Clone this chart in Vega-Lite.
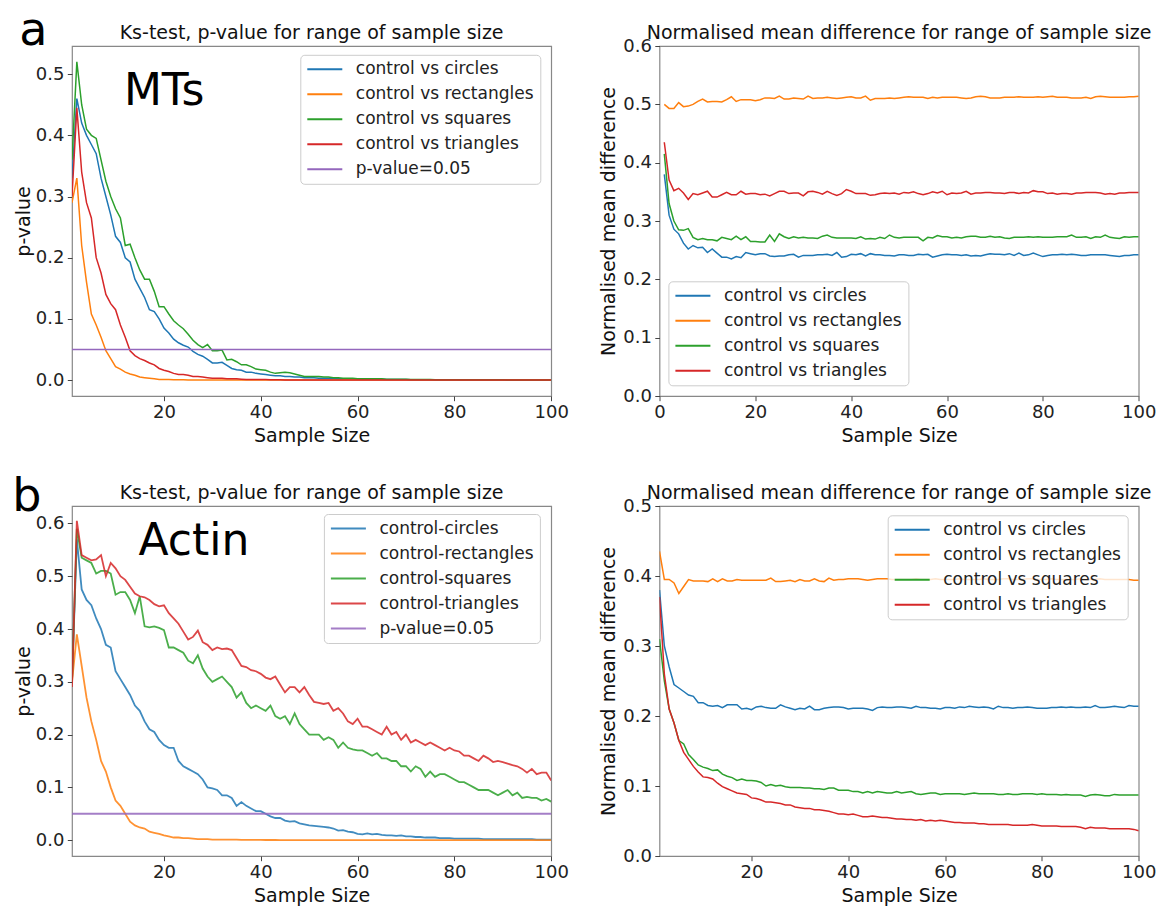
{
  "$schema": "https://vega.github.io/schema/vega-lite/v6.json",
  "background": "white",
  "padding": {"left": 11, "top": 7, "right": 5, "bottom": 5},
  "autosize": {"type": "pad"},
  "config": {
    "font": "DejaVu Sans",
    "view": {"stroke": "#888", "strokeWidth": 1.2},
    "axis": {"domain": false, "grid": false, "ticks": true, "tickSize": 4.7, "tickColor": "#444", "tickWidth": 1, "labelFontSize": 18, "labelColor": "#222", "labelFont": "DejaVu Sans", "labelFlush": false, "labelOverlap": false, "titleFontSize": 19, "titleFont": "DejaVu Sans", "titleFontWeight": "normal", "titleColor": "#111"},
    "axisX": {"labelPadding": 3, "titleY": 45.5, "titleBaseline": "alphabetic"},
    "axisY": {"labelPadding": 3.3, "titleBaseline": "alphabetic", "titleAngle": 270, "titleAlign": "center"},
    "title": {"fontSize": 19, "fontWeight": "normal", "font": "DejaVu Sans", "color": "#111", "baseline": "alphabetic", "frame": "group", "anchor": "middle"},
    "legend": {"orient": "none", "title": null, "symbolType": "stroke", "symbolSize": 1225, "symbolStrokeWidth": 2, "labelFontSize": 17, "labelFont": "DejaVu Sans", "labelColor": "#222", "labelLimit": 400, "labelOffset": 12.5, "rowPadding": 7, "padding": 6, "strokeColor": "#ccc", "fillColor": "rgba(255,255,255,0.8)", "cornerRadius": 4, "clipHeight": 17}
  },
  "datasets": {
    "tl": [
      {"n":1,"circles":0.33,"rectangles":0.29,"squares":0.36,"triangles":0.30},
      {"n":2,"circles":0.46,"rectangles":0.33,"squares":0.52,"triangles":0.445},
      {"n":3,"circles":0.42,"rectangles":0.22,"squares":0.45,"triangles":0.34},
      {"n":4,"circles":0.40,"rectangles":0.16,"squares":0.41,"triangles":0.29},
      {"n":5,"circles":0.385,"rectangles":0.108,"squares":0.40,"triangles":0.265},
      {"n":6,"circles":0.37,"rectangles":0.09,"squares":0.395,"triangles":0.20},
      {"n":7,"circles":0.33,"rectangles":0.07,"squares":0.36,"triangles":0.175},
      {"n":8,"circles":0.30,"rectangles":0.048,"squares":0.325,"triangles":0.14},
      {"n":9,"circles":0.27,"rectangles":0.035,"squares":0.30,"triangles":0.125},
      {"n":10,"circles":0.235,"rectangles":0.022,"squares":0.28,"triangles":0.115},
      {"n":11,"circles":0.225,"rectangles":0.018,"squares":0.265,"triangles":0.09},
      {"n":12,"circles":0.20,"rectangles":0.013,"squares":0.22,"triangles":0.07},
      {"n":13,"circles":0.193,"rectangles":0.010,"squares":0.222,"triangles":0.048},
      {"n":14,"circles":0.165,"rectangles":0.008,"squares":0.20,"triangles":0.040},
      {"n":15,"circles":0.15,"rectangles":0.005,"squares":0.18,"triangles":0.035},
      {"n":16,"circles":0.135,"rectangles":0.004,"squares":0.165,"triangles":0.032},
      {"n":17,"circles":0.115,"rectangles":0.003,"squares":0.165,"triangles":0.028},
      {"n":18,"circles":0.112,"rectangles":0.002,"squares":0.145,"triangles":0.025},
      {"n":19,"circles":0.10,"rectangles":0.001,"squares":0.12,"triangles":0.019},
      {"n":20,"circles":0.085,"rectangles":0.001,"squares":0.12,"triangles":0.016},
      {"n":21,"circles":0.077,"rectangles":0.001,"squares":0.108,"triangles":0.014},
      {"n":22,"circles":0.067,"rectangles":0.0005,"squares":0.097,"triangles":0.011},
      {"n":23,"circles":0.061,"rectangles":0.0005,"squares":0.09,"triangles":0.009},
      {"n":24,"circles":0.057,"rectangles":0.0004,"squares":0.084,"triangles":0.009},
      {"n":25,"circles":0.054,"rectangles":0.0003,"squares":0.075,"triangles":0.008},
      {"n":26,"circles":0.047,"rectangles":0.0002,"squares":0.065,"triangles":0.006},
      {"n":27,"circles":0.042,"rectangles":0.0002,"squares":0.058,"triangles":0.006},
      {"n":28,"circles":0.039,"rectangles":0.0001,"squares":0.053,"triangles":0.005},
      {"n":29,"circles":0.034,"rectangles":0.0001,"squares":0.058,"triangles":0.004},
      {"n":30,"circles":0.028,"rectangles":0.0001,"squares":0.048,"triangles":0.003},
      {"n":31,"circles":0.028,"rectangles":0.0001,"squares":0.048,"triangles":0.003},
      {"n":32,"circles":0.029,"rectangles":0,"squares":0.049,"triangles":0.003},
      {"n":33,"circles":0.024,"rectangles":0,"squares":0.033,"triangles":0.002},
      {"n":34,"circles":0.019,"rectangles":0,"squares":0.034,"triangles":0.002},
      {"n":35,"circles":0.017,"rectangles":0,"squares":0.030,"triangles":0.002},
      {"n":36,"circles":0.016,"rectangles":0,"squares":0.025,"triangles":0.0015},
      {"n":37,"circles":0.013,"rectangles":0,"squares":0.025,"triangles":0.001},
      {"n":38,"circles":0.013,"rectangles":0,"squares":0.022,"triangles":0.001},
      {"n":39,"circles":0.011,"rectangles":0,"squares":0.018,"triangles":0.001},
      {"n":40,"circles":0.010,"rectangles":0,"squares":0.017,"triangles":0.001},
      {"n":41,"circles":0.009,"rectangles":0,"squares":0.016,"triangles":0.0008},
      {"n":42,"circles":0.008,"rectangles":0,"squares":0.013,"triangles":0.0006},
      {"n":43,"circles":0.007,"rectangles":0,"squares":0.011,"triangles":0.0005},
      {"n":44,"circles":0.007,"rectangles":0,"squares":0.012,"triangles":0.0004},
      {"n":45,"circles":0.006,"rectangles":0,"squares":0.013,"triangles":0.0003},
      {"n":46,"circles":0.006,"rectangles":0,"squares":0.012,"triangles":0.0003},
      {"n":47,"circles":0.005,"rectangles":0,"squares":0.010,"triangles":0.0002},
      {"n":48,"circles":0.005,"rectangles":0,"squares":0.008,"triangles":0.0002},
      {"n":49,"circles":0.004,"rectangles":0,"squares":0.006,"triangles":0.0001},
      {"n":50,"circles":0.004,"rectangles":0,"squares":0.006,"triangles":0.0001},
      {"n":51,"circles":0.004,"rectangles":0,"squares":0.006,"triangles":0.0001},
      {"n":52,"circles":0.003,"rectangles":0,"squares":0.006,"triangles":0},
      {"n":53,"circles":0.003,"rectangles":0,"squares":0.005,"triangles":0},
      {"n":54,"circles":0.003,"rectangles":0,"squares":0.005,"triangles":0},
      {"n":55,"circles":0.003,"rectangles":0,"squares":0.004,"triangles":0},
      {"n":56,"circles":0.002,"rectangles":0,"squares":0.004,"triangles":0},
      {"n":57,"circles":0.002,"rectangles":0,"squares":0.003,"triangles":0},
      {"n":58,"circles":0.002,"rectangles":0,"squares":0.003,"triangles":0},
      {"n":59,"circles":0.002,"rectangles":0,"squares":0.003,"triangles":0},
      {"n":60,"circles":0.002,"rectangles":0,"squares":0.002,"triangles":0},
      {"n":61,"circles":0.0015,"rectangles":0,"squares":0.002,"triangles":0},
      {"n":62,"circles":0.0015,"rectangles":0,"squares":0.002,"triangles":0},
      {"n":63,"circles":0.0015,"rectangles":0,"squares":0.002,"triangles":0},
      {"n":64,"circles":0.0015,"rectangles":0,"squares":0.002,"triangles":0},
      {"n":65,"circles":0.0015,"rectangles":0,"squares":0.002,"triangles":0},
      {"n":66,"circles":0.001,"rectangles":0,"squares":0.0015,"triangles":0},
      {"n":67,"circles":0.001,"rectangles":0,"squares":0.0015,"triangles":0},
      {"n":68,"circles":0.001,"rectangles":0,"squares":0.0015,"triangles":0},
      {"n":69,"circles":0.001,"rectangles":0,"squares":0.0015,"triangles":0},
      {"n":70,"circles":0.001,"rectangles":0,"squares":0.0015,"triangles":0},
      {"n":71,"circles":0.0007,"rectangles":0,"squares":0.001,"triangles":0},
      {"n":72,"circles":0.0007,"rectangles":0,"squares":0.001,"triangles":0},
      {"n":73,"circles":0.0007,"rectangles":0,"squares":0.001,"triangles":0},
      {"n":74,"circles":0.0007,"rectangles":0,"squares":0.001,"triangles":0},
      {"n":75,"circles":0.0007,"rectangles":0,"squares":0.001,"triangles":0},
      {"n":76,"circles":0.0005,"rectangles":0,"squares":0.0007,"triangles":0},
      {"n":77,"circles":0.0005,"rectangles":0,"squares":0.0007,"triangles":0},
      {"n":78,"circles":0.0005,"rectangles":0,"squares":0.0007,"triangles":0},
      {"n":79,"circles":0.0005,"rectangles":0,"squares":0.0007,"triangles":0},
      {"n":80,"circles":0.0005,"rectangles":0,"squares":0.0007,"triangles":0},
      {"n":81,"circles":0.0003,"rectangles":0,"squares":0.0004,"triangles":0},
      {"n":82,"circles":0.0003,"rectangles":0,"squares":0.0004,"triangles":0},
      {"n":83,"circles":0.0003,"rectangles":0,"squares":0.0004,"triangles":0},
      {"n":84,"circles":0.0003,"rectangles":0,"squares":0.0004,"triangles":0},
      {"n":85,"circles":0.0003,"rectangles":0,"squares":0.0004,"triangles":0},
      {"n":86,"circles":0.0003,"rectangles":0,"squares":0.0004,"triangles":0},
      {"n":87,"circles":0.0003,"rectangles":0,"squares":0.0004,"triangles":0},
      {"n":88,"circles":0.0003,"rectangles":0,"squares":0.0004,"triangles":0},
      {"n":89,"circles":0.0003,"rectangles":0,"squares":0.0004,"triangles":0},
      {"n":90,"circles":0.0003,"rectangles":0,"squares":0.0004,"triangles":0},
      {"n":91,"circles":0.0001,"rectangles":0,"squares":0.0002,"triangles":0},
      {"n":92,"circles":0.0001,"rectangles":0,"squares":0.0002,"triangles":0},
      {"n":93,"circles":0.0001,"rectangles":0,"squares":0.0002,"triangles":0},
      {"n":94,"circles":0.0001,"rectangles":0,"squares":0.0002,"triangles":0},
      {"n":95,"circles":0.0001,"rectangles":0,"squares":0.0002,"triangles":0},
      {"n":96,"circles":0.0001,"rectangles":0,"squares":0.0002,"triangles":0},
      {"n":97,"circles":0.0001,"rectangles":0,"squares":0.0002,"triangles":0},
      {"n":98,"circles":0.0001,"rectangles":0,"squares":0.0002,"triangles":0},
      {"n":99,"circles":0.0001,"rectangles":0,"squares":0.0002,"triangles":0},
      {"n":100,"circles":0.0001,"rectangles":0,"squares":0.0002,"triangles":0}
    ],
    "tr": [
      {"n":1,"circles":0.380,"rectangles":0.500,"squares":0.415,"triangles":0.435},
      {"n":2,"circles":0.310,"rectangles":0.493,"squares":0.330,"triangles":0.370},
      {"n":3,"circles":0.286,"rectangles":0.493,"squares":0.300,"triangles":0.352},
      {"n":4,"circles":0.278,"rectangles":0.503,"squares":0.285,"triangles":0.356},
      {"n":5,"circles":0.262,"rectangles":0.496,"squares":0.284,"triangles":0.348},
      {"n":6,"circles":0.252,"rectangles":0.497,"squares":0.287,"triangles":0.337},
      {"n":7,"circles":0.258,"rectangles":0.500,"squares":0.272,"triangles":0.347},
      {"n":8,"circles":0.254,"rectangles":0.505,"squares":0.268,"triangles":0.345},
      {"n":9,"circles":0.255,"rectangles":0.509,"squares":0.270,"triangles":0.348},
      {"n":10,"circles":0.246,"rectangles":0.504,"squares":0.268,"triangles":0.351},
      {"n":11,"circles":0.252,"rectangles":0.505,"squares":0.268,"triangles":0.341},
      {"n":12,"circles":0.245,"rectangles":0.505,"squares":0.266,"triangles":0.341},
      {"n":13,"circles":0.238,"rectangles":0.504,"squares":0.272,"triangles":0.345},
      {"n":14,"circles":0.238,"rectangles":0.508,"squares":0.270,"triangles":0.349},
      {"n":15,"circles":0.235,"rectangles":0.513,"squares":0.268,"triangles":0.345},
      {"n":16,"circles":0.239,"rectangles":0.505,"squares":0.274,"triangles":0.345},
      {"n":17,"circles":0.237,"rectangles":0.508,"squares":0.268,"triangles":0.351},
      {"n":18,"circles":0.246,"rectangles":0.508,"squares":0.273,"triangles":0.346},
      {"n":19,"circles":0.244,"rectangles":0.508,"squares":0.265,"triangles":0.347},
      {"n":20,"circles":0.242,"rectangles":0.506,"squares":0.265,"triangles":0.347},
      {"n":21,"circles":0.244,"rectangles":0.508,"squares":0.264,"triangles":0.345},
      {"n":22,"circles":0.244,"rectangles":0.511,"squares":0.264,"triangles":0.346},
      {"n":23,"circles":0.240,"rectangles":0.511,"squares":0.276,"triangles":0.343},
      {"n":24,"circles":0.239,"rectangles":0.510,"squares":0.265,"triangles":0.347},
      {"n":25,"circles":0.240,"rectangles":0.514,"squares":0.278,"triangles":0.351},
      {"n":26,"circles":0.240,"rectangles":0.509,"squares":0.273,"triangles":0.351},
      {"n":27,"circles":0.242,"rectangles":0.509,"squares":0.270,"triangles":0.347},
      {"n":28,"circles":0.243,"rectangles":0.511,"squares":0.273,"triangles":0.348},
      {"n":29,"circles":0.238,"rectangles":0.510,"squares":0.271,"triangles":0.348},
      {"n":30,"circles":0.241,"rectangles":0.509,"squares":0.272,"triangles":0.343},
      {"n":31,"circles":0.241,"rectangles":0.514,"squares":0.271,"triangles":0.350},
      {"n":32,"circles":0.241,"rectangles":0.510,"squares":0.271,"triangles":0.351},
      {"n":33,"circles":0.242,"rectangles":0.511,"squares":0.270,"triangles":0.349},
      {"n":34,"circles":0.242,"rectangles":0.511,"squares":0.274,"triangles":0.346},
      {"n":35,"circles":0.243,"rectangles":0.512,"squares":0.276,"triangles":0.351},
      {"n":36,"circles":0.241,"rectangles":0.511,"squares":0.272,"triangles":0.347},
      {"n":37,"circles":0.246,"rectangles":0.510,"squares":0.271,"triangles":0.344},
      {"n":38,"circles":0.238,"rectangles":0.511,"squares":0.271,"triangles":0.347},
      {"n":39,"circles":0.239,"rectangles":0.512,"squares":0.271,"triangles":0.354},
      {"n":40,"circles":0.243,"rectangles":0.513,"squares":0.271,"triangles":0.351},
      {"n":41,"circles":0.242,"rectangles":0.511,"squares":0.270,"triangles":0.347},
      {"n":42,"circles":0.244,"rectangles":0.511,"squares":0.273,"triangles":0.347},
      {"n":43,"circles":0.240,"rectangles":0.514,"squares":0.269,"triangles":0.347},
      {"n":44,"circles":0.244,"rectangles":0.507,"squares":0.270,"triangles":0.344},
      {"n":45,"circles":0.242,"rectangles":0.510,"squares":0.269,"triangles":0.345},
      {"n":46,"circles":0.242,"rectangles":0.510,"squares":0.272,"triangles":0.347},
      {"n":47,"circles":0.241,"rectangles":0.510,"squares":0.270,"triangles":0.348},
      {"n":48,"circles":0.241,"rectangles":0.511,"squares":0.276,"triangles":0.347},
      {"n":49,"circles":0.240,"rectangles":0.510,"squares":0.272,"triangles":0.348},
      {"n":50,"circles":0.242,"rectangles":0.511,"squares":0.271,"triangles":0.346},
      {"n":51,"circles":0.242,"rectangles":0.512,"squares":0.272,"triangles":0.349},
      {"n":52,"circles":0.241,"rectangles":0.513,"squares":0.272,"triangles":0.348},
      {"n":53,"circles":0.241,"rectangles":0.512,"squares":0.272,"triangles":0.350},
      {"n":54,"circles":0.243,"rectangles":0.512,"squares":0.272,"triangles":0.347},
      {"n":55,"circles":0.242,"rectangles":0.512,"squares":0.266,"triangles":0.345},
      {"n":56,"circles":0.243,"rectangles":0.510,"squares":0.272,"triangles":0.347},
      {"n":57,"circles":0.238,"rectangles":0.512,"squares":0.271,"triangles":0.350},
      {"n":58,"circles":0.240,"rectangles":0.511,"squares":0.275,"triangles":0.348},
      {"n":59,"circles":0.242,"rectangles":0.512,"squares":0.273,"triangles":0.351},
      {"n":60,"circles":0.243,"rectangles":0.512,"squares":0.273,"triangles":0.345},
      {"n":61,"circles":0.242,"rectangles":0.512,"squares":0.271,"triangles":0.348},
      {"n":62,"circles":0.242,"rectangles":0.512,"squares":0.272,"triangles":0.347},
      {"n":63,"circles":0.241,"rectangles":0.511,"squares":0.271,"triangles":0.348},
      {"n":64,"circles":0.242,"rectangles":0.510,"squares":0.273,"triangles":0.351},
      {"n":65,"circles":0.240,"rectangles":0.511,"squares":0.274,"triangles":0.346},
      {"n":66,"circles":0.241,"rectangles":0.513,"squares":0.274,"triangles":0.348},
      {"n":67,"circles":0.240,"rectangles":0.514,"squares":0.272,"triangles":0.348},
      {"n":68,"circles":0.242,"rectangles":0.513,"squares":0.272,"triangles":0.349},
      {"n":69,"circles":0.244,"rectangles":0.511,"squares":0.274,"triangles":0.349},
      {"n":70,"circles":0.243,"rectangles":0.511,"squares":0.272,"triangles":0.348},
      {"n":71,"circles":0.243,"rectangles":0.511,"squares":0.273,"triangles":0.348},
      {"n":72,"circles":0.242,"rectangles":0.512,"squares":0.271,"triangles":0.347},
      {"n":73,"circles":0.244,"rectangles":0.512,"squares":0.270,"triangles":0.349},
      {"n":74,"circles":0.241,"rectangles":0.512,"squares":0.272,"triangles":0.349},
      {"n":75,"circles":0.245,"rectangles":0.513,"squares":0.272,"triangles":0.347},
      {"n":76,"circles":0.241,"rectangles":0.512,"squares":0.272,"triangles":0.349},
      {"n":77,"circles":0.242,"rectangles":0.512,"squares":0.273,"triangles":0.348},
      {"n":78,"circles":0.245,"rectangles":0.512,"squares":0.272,"triangles":0.352},
      {"n":79,"circles":0.242,"rectangles":0.513,"squares":0.273,"triangles":0.350},
      {"n":80,"circles":0.239,"rectangles":0.512,"squares":0.272,"triangles":0.350},
      {"n":81,"circles":0.241,"rectangles":0.513,"squares":0.272,"triangles":0.347},
      {"n":82,"circles":0.242,"rectangles":0.514,"squares":0.272,"triangles":0.348},
      {"n":83,"circles":0.242,"rectangles":0.512,"squares":0.273,"triangles":0.346},
      {"n":84,"circles":0.243,"rectangles":0.512,"squares":0.273,"triangles":0.347},
      {"n":85,"circles":0.242,"rectangles":0.512,"squares":0.273,"triangles":0.347},
      {"n":86,"circles":0.243,"rectangles":0.511,"squares":0.276,"triangles":0.346},
      {"n":87,"circles":0.242,"rectangles":0.511,"squares":0.272,"triangles":0.348},
      {"n":88,"circles":0.241,"rectangles":0.511,"squares":0.272,"triangles":0.348},
      {"n":89,"circles":0.241,"rectangles":0.512,"squares":0.273,"triangles":0.349},
      {"n":90,"circles":0.242,"rectangles":0.510,"squares":0.270,"triangles":0.349},
      {"n":91,"circles":0.242,"rectangles":0.513,"squares":0.273,"triangles":0.349},
      {"n":92,"circles":0.242,"rectangles":0.514,"squares":0.272,"triangles":0.348},
      {"n":93,"circles":0.242,"rectangles":0.513,"squares":0.276,"triangles":0.346},
      {"n":94,"circles":0.241,"rectangles":0.512,"squares":0.272,"triangles":0.347},
      {"n":95,"circles":0.240,"rectangles":0.512,"squares":0.271,"triangles":0.346},
      {"n":96,"circles":0.239,"rectangles":0.512,"squares":0.270,"triangles":0.348},
      {"n":97,"circles":0.241,"rectangles":0.512,"squares":0.273,"triangles":0.348},
      {"n":98,"circles":0.241,"rectangles":0.513,"squares":0.272,"triangles":0.349},
      {"n":99,"circles":0.242,"rectangles":0.513,"squares":0.273,"triangles":0.349},
      {"n":100,"circles":0.242,"rectangles":0.514,"squares":0.273,"triangles":0.349}
    ],
    "bl": [
      {"n":1,"circles":0.30,"rectangles":0.30,"squares":0.30,"triangles":0.29},
      {"n":2,"circles":0.57,"rectangles":0.39,"squares":0.59,"triangles":0.605},
      {"n":3,"circles":0.475,"rectangles":0.33,"squares":0.535,"triangles":0.54},
      {"n":4,"circles":0.455,"rectangles":0.27,"squares":0.53,"triangles":0.535},
      {"n":5,"circles":0.445,"rectangles":0.225,"squares":0.525,"triangles":0.53},
      {"n":6,"circles":0.42,"rectangles":0.19,"squares":0.505,"triangles":0.532},
      {"n":7,"circles":0.40,"rectangles":0.15,"squares":0.51,"triangles":0.54},
      {"n":8,"circles":0.37,"rectangles":0.13,"squares":0.51,"triangles":0.50},
      {"n":9,"circles":0.365,"rectangles":0.10,"squares":0.505,"triangles":0.525},
      {"n":10,"circles":0.32,"rectangles":0.075,"squares":0.465,"triangles":0.515},
      {"n":11,"circles":0.305,"rectangles":0.065,"squares":0.47,"triangles":0.50},
      {"n":12,"circles":0.29,"rectangles":0.05,"squares":0.47,"triangles":0.493},
      {"n":13,"circles":0.275,"rectangles":0.035,"squares":0.455,"triangles":0.48},
      {"n":14,"circles":0.255,"rectangles":0.028,"squares":0.43,"triangles":0.467},
      {"n":15,"circles":0.245,"rectangles":0.024,"squares":0.462,"triangles":0.462},
      {"n":16,"circles":0.225,"rectangles":0.022,"squares":0.405,"triangles":0.46},
      {"n":17,"circles":0.21,"rectangles":0.016,"squares":0.403,"triangles":0.455},
      {"n":18,"circles":0.205,"rectangles":0.014,"squares":0.405,"triangles":0.447},
      {"n":19,"circles":0.19,"rectangles":0.012,"squares":0.402,"triangles":0.443},
      {"n":20,"circles":0.18,"rectangles":0.009,"squares":0.398,"triangles":0.445},
      {"n":21,"circles":0.175,"rectangles":0.007,"squares":0.365,"triangles":0.43},
      {"n":22,"circles":0.175,"rectangles":0.005,"squares":0.365,"triangles":0.42},
      {"n":23,"circles":0.15,"rectangles":0.005,"squares":0.36,"triangles":0.41},
      {"n":24,"circles":0.14,"rectangles":0.004,"squares":0.355,"triangles":0.395},
      {"n":25,"circles":0.135,"rectangles":0.004,"squares":0.34,"triangles":0.38},
      {"n":26,"circles":0.13,"rectangles":0.003,"squares":0.335,"triangles":0.385},
      {"n":27,"circles":0.125,"rectangles":0.002,"squares":0.35,"triangles":0.397},
      {"n":28,"circles":0.115,"rectangles":0.002,"squares":0.325,"triangles":0.375},
      {"n":29,"circles":0.10,"rectangles":0.002,"squares":0.31,"triangles":0.37},
      {"n":30,"circles":0.098,"rectangles":0.001,"squares":0.30,"triangles":0.36},
      {"n":31,"circles":0.095,"rectangles":0.001,"squares":0.305,"triangles":0.365},
      {"n":32,"circles":0.085,"rectangles":0.001,"squares":0.31,"triangles":0.362},
      {"n":33,"circles":0.085,"rectangles":0.001,"squares":0.30,"triangles":0.363},
      {"n":34,"circles":0.08,"rectangles":0.001,"squares":0.29,"triangles":0.36},
      {"n":35,"circles":0.065,"rectangles":0.001,"squares":0.27,"triangles":0.345},
      {"n":36,"circles":0.072,"rectangles":0.0005,"squares":0.28,"triangles":0.33},
      {"n":37,"circles":0.065,"rectangles":0.0005,"squares":0.26,"triangles":0.328},
      {"n":38,"circles":0.06,"rectangles":0.0005,"squares":0.25,"triangles":0.322},
      {"n":39,"circles":0.055,"rectangles":0.0004,"squares":0.255,"triangles":0.32},
      {"n":40,"circles":0.055,"rectangles":0.0004,"squares":0.25,"triangles":0.315},
      {"n":41,"circles":0.05,"rectangles":0.0003,"squares":0.245,"triangles":0.308},
      {"n":42,"circles":0.045,"rectangles":0.0003,"squares":0.255,"triangles":0.305},
      {"n":43,"circles":0.042,"rectangles":0.0003,"squares":0.235,"triangles":0.31},
      {"n":44,"circles":0.042,"rectangles":0.0002,"squares":0.23,"triangles":0.295},
      {"n":45,"circles":0.037,"rectangles":0.0002,"squares":0.235,"triangles":0.28},
      {"n":46,"circles":0.035,"rectangles":0.0002,"squares":0.22,"triangles":0.29},
      {"n":47,"circles":0.036,"rectangles":0.0002,"squares":0.24,"triangles":0.29},
      {"n":48,"circles":0.032,"rectangles":0.0001,"squares":0.22,"triangles":0.28},
      {"n":49,"circles":0.03,"rectangles":0.0001,"squares":0.21,"triangles":0.29},
      {"n":50,"circles":0.028,"rectangles":0.0001,"squares":0.20,"triangles":0.275},
      {"n":51,"circles":0.027,"rectangles":0.0001,"squares":0.20,"triangles":0.262},
      {"n":52,"circles":0.026,"rectangles":0.0001,"squares":0.20,"triangles":0.26},
      {"n":53,"circles":0.025,"rectangles":0,"squares":0.19,"triangles":0.258},
      {"n":54,"circles":0.024,"rectangles":0,"squares":0.195,"triangles":0.26},
      {"n":55,"circles":0.022,"rectangles":0,"squares":0.19,"triangles":0.245},
      {"n":56,"circles":0.018,"rectangles":0,"squares":0.175,"triangles":0.25},
      {"n":57,"circles":0.019,"rectangles":0,"squares":0.185,"triangles":0.24},
      {"n":58,"circles":0.016,"rectangles":0,"squares":0.175,"triangles":0.225},
      {"n":59,"circles":0.015,"rectangles":0,"squares":0.172,"triangles":0.22},
      {"n":60,"circles":0.012,"rectangles":0,"squares":0.17,"triangles":0.23},
      {"n":61,"circles":0.011,"rectangles":0,"squares":0.17,"triangles":0.215},
      {"n":62,"circles":0.013,"rectangles":0,"squares":0.165,"triangles":0.215},
      {"n":63,"circles":0.011,"rectangles":0,"squares":0.16,"triangles":0.21},
      {"n":64,"circles":0.012,"rectangles":0,"squares":0.165,"triangles":0.205},
      {"n":65,"circles":0.010,"rectangles":0,"squares":0.155,"triangles":0.20},
      {"n":66,"circles":0.009,"rectangles":0,"squares":0.155,"triangles":0.215},
      {"n":67,"circles":0.009,"rectangles":0,"squares":0.15,"triangles":0.20},
      {"n":68,"circles":0.008,"rectangles":0,"squares":0.15,"triangles":0.205},
      {"n":69,"circles":0.009,"rectangles":0,"squares":0.14,"triangles":0.19},
      {"n":70,"circles":0.007,"rectangles":0,"squares":0.14,"triangles":0.20},
      {"n":71,"circles":0.007,"rectangles":0,"squares":0.13,"triangles":0.185},
      {"n":72,"circles":0.006,"rectangles":0,"squares":0.14,"triangles":0.19},
      {"n":73,"circles":0.006,"rectangles":0,"squares":0.135,"triangles":0.185},
      {"n":74,"circles":0.005,"rectangles":0,"squares":0.12,"triangles":0.18},
      {"n":75,"circles":0.005,"rectangles":0,"squares":0.13,"triangles":0.185},
      {"n":76,"circles":0.005,"rectangles":0,"squares":0.12,"triangles":0.18},
      {"n":77,"circles":0.004,"rectangles":0,"squares":0.125,"triangles":0.175},
      {"n":78,"circles":0.004,"rectangles":0,"squares":0.125,"triangles":0.17},
      {"n":79,"circles":0.004,"rectangles":0,"squares":0.12,"triangles":0.175},
      {"n":80,"circles":0.003,"rectangles":0,"squares":0.115,"triangles":0.17},
      {"n":81,"circles":0.003,"rectangles":0,"squares":0.11,"triangles":0.168},
      {"n":82,"circles":0.003,"rectangles":0,"squares":0.11,"triangles":0.16},
      {"n":83,"circles":0.003,"rectangles":0,"squares":0.105,"triangles":0.16},
      {"n":84,"circles":0.003,"rectangles":0,"squares":0.10,"triangles":0.155},
      {"n":85,"circles":0.003,"rectangles":0,"squares":0.095,"triangles":0.15},
      {"n":86,"circles":0.002,"rectangles":0,"squares":0.095,"triangles":0.16},
      {"n":87,"circles":0.002,"rectangles":0,"squares":0.095,"triangles":0.155},
      {"n":88,"circles":0.002,"rectangles":0,"squares":0.09,"triangles":0.148},
      {"n":89,"circles":0.002,"rectangles":0,"squares":0.085,"triangles":0.15},
      {"n":90,"circles":0.002,"rectangles":0,"squares":0.09,"triangles":0.148},
      {"n":91,"circles":0.002,"rectangles":0,"squares":0.095,"triangles":0.145},
      {"n":92,"circles":0.002,"rectangles":0,"squares":0.085,"triangles":0.142},
      {"n":93,"circles":0.002,"rectangles":0,"squares":0.09,"triangles":0.14},
      {"n":94,"circles":0.002,"rectangles":0,"squares":0.08,"triangles":0.135},
      {"n":95,"circles":0.002,"rectangles":0,"squares":0.082,"triangles":0.128},
      {"n":96,"circles":0.002,"rectangles":0,"squares":0.08,"triangles":0.135},
      {"n":97,"circles":0.001,"rectangles":0,"squares":0.08,"triangles":0.125},
      {"n":98,"circles":0.001,"rectangles":0,"squares":0.075,"triangles":0.128},
      {"n":99,"circles":0.001,"rectangles":0,"squares":0.078,"triangles":0.128},
      {"n":100,"circles":0.001,"rectangles":0,"squares":0.073,"triangles":0.113}
    ],
    "br": [
      {"n":1,"circles":0.380,"rectangles":0.435,"squares":0.310,"triangles":0.370},
      {"n":2,"circles":0.300,"rectangles":0.395,"squares":0.250,"triangles":0.260},
      {"n":3,"circles":0.270,"rectangles":0.395,"squares":0.210,"triangles":0.210},
      {"n":4,"circles":0.245,"rectangles":0.390,"squares":0.190,"triangles":0.190},
      {"n":5,"circles":0.240,"rectangles":0.375,"squares":0.165,"triangles":0.165},
      {"n":6,"circles":0.235,"rectangles":0.385,"squares":0.160,"triangles":0.148},
      {"n":7,"circles":0.230,"rectangles":0.395,"squares":0.145,"triangles":0.138},
      {"n":8,"circles":0.228,"rectangles":0.393,"squares":0.138,"triangles":0.128},
      {"n":9,"circles":0.219,"rectangles":0.393,"squares":0.130,"triangles":0.120},
      {"n":10,"circles":0.219,"rectangles":0.393,"squares":0.127,"triangles":0.113},
      {"n":11,"circles":0.215,"rectangles":0.392,"squares":0.125,"triangles":0.112},
      {"n":12,"circles":0.214,"rectangles":0.396,"squares":0.122,"triangles":0.110},
      {"n":13,"circles":0.215,"rectangles":0.392,"squares":0.123,"triangles":0.104},
      {"n":14,"circles":0.212,"rectangles":0.396,"squares":0.117,"triangles":0.099},
      {"n":15,"circles":0.216,"rectangles":0.393,"squares":0.114,"triangles":0.096},
      {"n":16,"circles":0.216,"rectangles":0.393,"squares":0.112,"triangles":0.093},
      {"n":17,"circles":0.216,"rectangles":0.395,"squares":0.108,"triangles":0.090},
      {"n":18,"circles":0.210,"rectangles":0.394,"squares":0.110,"triangles":0.089},
      {"n":19,"circles":0.211,"rectangles":0.394,"squares":0.108,"triangles":0.088},
      {"n":20,"circles":0.209,"rectangles":0.394,"squares":0.108,"triangles":0.083},
      {"n":21,"circles":0.213,"rectangles":0.394,"squares":0.107,"triangles":0.082},
      {"n":22,"circles":0.214,"rectangles":0.394,"squares":0.105,"triangles":0.080},
      {"n":23,"circles":0.212,"rectangles":0.394,"squares":0.100,"triangles":0.077},
      {"n":24,"circles":0.211,"rectangles":0.397,"squares":0.102,"triangles":0.077},
      {"n":25,"circles":0.211,"rectangles":0.392,"squares":0.100,"triangles":0.076},
      {"n":26,"circles":0.216,"rectangles":0.392,"squares":0.101,"triangles":0.075},
      {"n":27,"circles":0.213,"rectangles":0.393,"squares":0.099,"triangles":0.073},
      {"n":28,"circles":0.211,"rectangles":0.394,"squares":0.098,"triangles":0.073},
      {"n":29,"circles":0.209,"rectangles":0.392,"squares":0.098,"triangles":0.070},
      {"n":30,"circles":0.211,"rectangles":0.395,"squares":0.098,"triangles":0.069},
      {"n":31,"circles":0.210,"rectangles":0.393,"squares":0.097,"triangles":0.068},
      {"n":32,"circles":0.214,"rectangles":0.393,"squares":0.097,"triangles":0.068},
      {"n":33,"circles":0.209,"rectangles":0.396,"squares":0.096,"triangles":0.066},
      {"n":34,"circles":0.209,"rectangles":0.393,"squares":0.096,"triangles":0.066},
      {"n":35,"circles":0.211,"rectangles":0.392,"squares":0.095,"triangles":0.065},
      {"n":36,"circles":0.212,"rectangles":0.397,"squares":0.097,"triangles":0.064},
      {"n":37,"circles":0.213,"rectangles":0.394,"squares":0.097,"triangles":0.062},
      {"n":38,"circles":0.213,"rectangles":0.395,"squares":0.094,"triangles":0.060},
      {"n":39,"circles":0.212,"rectangles":0.395,"squares":0.094,"triangles":0.060},
      {"n":40,"circles":0.210,"rectangles":0.396,"squares":0.094,"triangles":0.059},
      {"n":41,"circles":0.211,"rectangles":0.396,"squares":0.092,"triangles":0.060},
      {"n":42,"circles":0.211,"rectangles":0.396,"squares":0.092,"triangles":0.058},
      {"n":43,"circles":0.211,"rectangles":0.395,"squares":0.090,"triangles":0.056},
      {"n":44,"circles":0.210,"rectangles":0.394,"squares":0.092,"triangles":0.056},
      {"n":45,"circles":0.208,"rectangles":0.395,"squares":0.090,"triangles":0.057},
      {"n":46,"circles":0.212,"rectangles":0.396,"squares":0.092,"triangles":0.056},
      {"n":47,"circles":0.213,"rectangles":0.396,"squares":0.091,"triangles":0.055},
      {"n":48,"circles":0.212,"rectangles":0.396,"squares":0.090,"triangles":0.055},
      {"n":49,"circles":0.212,"rectangles":0.395,"squares":0.090,"triangles":0.054},
      {"n":50,"circles":0.213,"rectangles":0.395,"squares":0.092,"triangles":0.053},
      {"n":51,"circles":0.213,"rectangles":0.395,"squares":0.090,"triangles":0.053},
      {"n":52,"circles":0.212,"rectangles":0.395,"squares":0.091,"triangles":0.052},
      {"n":53,"circles":0.211,"rectangles":0.395,"squares":0.092,"triangles":0.052},
      {"n":54,"circles":0.214,"rectangles":0.396,"squares":0.089,"triangles":0.051},
      {"n":55,"circles":0.212,"rectangles":0.395,"squares":0.088,"triangles":0.052},
      {"n":56,"circles":0.212,"rectangles":0.395,"squares":0.089,"triangles":0.050},
      {"n":57,"circles":0.211,"rectangles":0.395,"squares":0.090,"triangles":0.051},
      {"n":58,"circles":0.211,"rectangles":0.396,"squares":0.090,"triangles":0.050},
      {"n":59,"circles":0.210,"rectangles":0.395,"squares":0.088,"triangles":0.051},
      {"n":60,"circles":0.212,"rectangles":0.395,"squares":0.089,"triangles":0.050},
      {"n":61,"circles":0.212,"rectangles":0.395,"squares":0.089,"triangles":0.049},
      {"n":62,"circles":0.211,"rectangles":0.395,"squares":0.089,"triangles":0.048},
      {"n":63,"circles":0.213,"rectangles":0.396,"squares":0.089,"triangles":0.048},
      {"n":64,"circles":0.212,"rectangles":0.395,"squares":0.088,"triangles":0.047},
      {"n":65,"circles":0.214,"rectangles":0.395,"squares":0.089,"triangles":0.047},
      {"n":66,"circles":0.213,"rectangles":0.395,"squares":0.090,"triangles":0.047},
      {"n":67,"circles":0.212,"rectangles":0.395,"squares":0.089,"triangles":0.046},
      {"n":68,"circles":0.213,"rectangles":0.396,"squares":0.089,"triangles":0.046},
      {"n":69,"circles":0.212,"rectangles":0.395,"squares":0.089,"triangles":0.045},
      {"n":70,"circles":0.210,"rectangles":0.395,"squares":0.089,"triangles":0.045},
      {"n":71,"circles":0.214,"rectangles":0.395,"squares":0.088,"triangles":0.045},
      {"n":72,"circles":0.212,"rectangles":0.396,"squares":0.088,"triangles":0.045},
      {"n":73,"circles":0.212,"rectangles":0.396,"squares":0.089,"triangles":0.045},
      {"n":74,"circles":0.211,"rectangles":0.395,"squares":0.088,"triangles":0.044},
      {"n":75,"circles":0.212,"rectangles":0.395,"squares":0.088,"triangles":0.044},
      {"n":76,"circles":0.212,"rectangles":0.395,"squares":0.089,"triangles":0.044},
      {"n":77,"circles":0.213,"rectangles":0.396,"squares":0.089,"triangles":0.044},
      {"n":78,"circles":0.212,"rectangles":0.396,"squares":0.089,"triangles":0.045},
      {"n":79,"circles":0.211,"rectangles":0.395,"squares":0.088,"triangles":0.044},
      {"n":80,"circles":0.211,"rectangles":0.395,"squares":0.089,"triangles":0.043},
      {"n":81,"circles":0.211,"rectangles":0.395,"squares":0.088,"triangles":0.043},
      {"n":82,"circles":0.212,"rectangles":0.396,"squares":0.088,"triangles":0.043},
      {"n":83,"circles":0.212,"rectangles":0.395,"squares":0.088,"triangles":0.043},
      {"n":84,"circles":0.213,"rectangles":0.395,"squares":0.087,"triangles":0.042},
      {"n":85,"circles":0.212,"rectangles":0.395,"squares":0.088,"triangles":0.042},
      {"n":86,"circles":0.213,"rectangles":0.395,"squares":0.087,"triangles":0.042},
      {"n":87,"circles":0.212,"rectangles":0.395,"squares":0.087,"triangles":0.042},
      {"n":88,"circles":0.212,"rectangles":0.396,"squares":0.087,"triangles":0.041},
      {"n":89,"circles":0.213,"rectangles":0.395,"squares":0.085,"triangles":0.039},
      {"n":90,"circles":0.212,"rectangles":0.395,"squares":0.087,"triangles":0.041},
      {"n":91,"circles":0.215,"rectangles":0.395,"squares":0.088,"triangles":0.040},
      {"n":92,"circles":0.212,"rectangles":0.396,"squares":0.087,"triangles":0.040},
      {"n":93,"circles":0.212,"rectangles":0.395,"squares":0.086,"triangles":0.040},
      {"n":94,"circles":0.213,"rectangles":0.395,"squares":0.086,"triangles":0.039},
      {"n":95,"circles":0.214,"rectangles":0.395,"squares":0.088,"triangles":0.039},
      {"n":96,"circles":0.213,"rectangles":0.395,"squares":0.087,"triangles":0.039},
      {"n":97,"circles":0.212,"rectangles":0.395,"squares":0.087,"triangles":0.039},
      {"n":98,"circles":0.215,"rectangles":0.395,"squares":0.087,"triangles":0.039},
      {"n":99,"circles":0.214,"rectangles":0.394,"squares":0.087,"triangles":0.038},
      {"n":100,"circles":0.214,"rectangles":0.394,"squares":0.087,"triangles":0.036}
    ]
  },
  "columns": 2,
  "spacing": {"row": 110, "column": 107.5},
  "bounds": "flush",
  "resolve": {"scale": {"color": "independent"}, "legend": {"color": "independent"}},
  "concat": [
    {
      "width": 479.2,
      "height": 350,
      "title": {"text": "Ks-test, p-value for range of sample size", "offset": -35},
      "layer": [
        {
          "data": {"name": "tl"},
          "transform": [{"fold": ["circles", "rectangles", "squares", "triangles"], "as": ["series", "value"]}],
          "mark": {"type": "line", "strokeWidth": 1.5, "clip": true},
          "encoding": {
            "x": {"field": "n", "type": "quantitative", "scale": {"domain": [1, 100], "nice": false, "zero": false}, "axis": {"values": [20, 40, 60, 80, 100], "format": "d", "title": "Sample Size"}},
            "y": {"field": "value", "type": "quantitative", "scale": {"domain": [-0.026, 0.546], "nice": false, "zero": false}, "axis": {"values": [0, 0.1, 0.2, 0.3, 0.4, 0.5], "format": ".1f", "title": "p-value", "titleX": -43}},
            "color": {"field": "series", "type": "nominal", "scale": {"domain": ["circles", "rectangles", "squares", "triangles", "p-value=0.05"], "range": ["#1f77b4", "#ff7f0e", "#2ca02c", "#d62728", "#9467bd"]}, "legend": {"legendX": 228.3, "legendY": 8.8, "labelExpr": "datum.label == 'p-value=0.05' ? datum.label : 'control vs ' + datum.label"}}
          }
        },
        {
          "data": {"values": [{"series": "p-value=0.05", "value": 0.05}]},
          "mark": {"type": "rule", "strokeWidth": 1.5},
          "encoding": {
            "y": {"field": "value", "type": "quantitative"},
            "color": {"field": "series", "type": "nominal"}
          }
        },
        {
          "data": {"values": [{"label": "MTs", "n": 11.72, "value": 0.449}]},
          "mark": {"type": "text", "fontSize": 44, "align": "left", "baseline": "alphabetic", "font": "DejaVu Sans", "color": "#000"},
          "encoding": {"x": {"field": "n", "type": "quantitative"}, "y": {"field": "value", "type": "quantitative"}, "text": {"field": "label"}}
        },
        {
          "data": {"values": [{"label": "a", "n": -9.89, "value": 0.5476}]},
          "mark": {"type": "text", "fontSize": 46, "align": "left", "baseline": "alphabetic", "font": "DejaVu Sans", "color": "#000"},
          "encoding": {"x": {"field": "n", "type": "quantitative"}, "y": {"field": "value", "type": "quantitative"}, "text": {"field": "label"}}
        }
      ]
    },
    {
      "width": 479.2,
      "height": 350,
      "title": {"text": "Normalised mean difference for range of sample size", "offset": -6},
      "layer": [
        {
          "data": {"name": "tr"},
          "transform": [{"fold": ["circles", "rectangles", "squares", "triangles"], "as": ["series", "value"]}],
          "mark": {"type": "line", "strokeWidth": 1.5, "clip": true},
          "encoding": {
            "x": {"field": "n", "type": "quantitative", "scale": {"domain": [0, 100], "nice": false, "zero": false}, "axis": {"values": [0, 20, 40, 60, 80, 100], "format": "d", "title": "Sample Size"}},
            "y": {"field": "value", "type": "quantitative", "scale": {"domain": [0, 0.6], "nice": false, "zero": false}, "axis": {"values": [0, 0.1, 0.2, 0.3, 0.4, 0.5, 0.6], "format": ".1f", "title": "Normalised mean difference", "titleX": -45.5}},
            "color": {"field": "series", "type": "nominal", "scale": {"domain": ["circles", "rectangles", "squares", "triangles"], "range": ["#1f77b4", "#ff7f0e", "#2ca02c", "#d62728"]}, "legend": {"legendX": 8.9, "legendY": 235.3, "labelExpr": "'control vs ' + datum.label"}}
          }
        }
      ]
    },
    {
      "width": 479.2,
      "height": 350,
      "title": {"text": "Ks-test, p-value for range of sample size", "offset": -29},
      "layer": [
        {
          "data": {"name": "bl"},
          "transform": [{"fold": ["circles", "rectangles", "squares", "triangles"], "as": ["series", "value"]}],
          "mark": {"type": "line", "strokeWidth": 1.8, "opacity": 0.85, "clip": true},
          "encoding": {
            "x": {"field": "n", "type": "quantitative", "scale": {"domain": [1, 100], "nice": false, "zero": false}, "axis": {"values": [20, 40, 60, 80, 100], "format": "d", "title": "Sample Size"}},
            "y": {"field": "value", "type": "quantitative", "scale": {"domain": [-0.03, 0.633], "nice": false, "zero": false}, "axis": {"values": [0, 0.1, 0.2, 0.3, 0.4, 0.5, 0.6], "format": ".1f", "title": "p-value", "titleX": -43}},
            "color": {"field": "series", "type": "nominal", "scale": {"domain": ["circles", "rectangles", "squares", "triangles", "p-value=0.05"], "range": ["#1f77b4", "#ff7f0e", "#2ca02c", "#d62728", "#9467bd"]}, "legend": {"legendX": 251.9, "legendY": 8, "labelExpr": "datum.label == 'p-value=0.05' ? datum.label : 'control-' + datum.label"}}
          }
        },
        {
          "data": {"values": [{"series": "p-value=0.05", "value": 0.05}]},
          "mark": {"type": "rule", "strokeWidth": 1.8, "opacity": 0.85},
          "encoding": {
            "y": {"field": "value", "type": "quantitative"},
            "color": {"field": "series", "type": "nominal"}
          }
        },
        {
          "data": {"values": [{"label": "Actin", "n": 14.74, "value": 0.54}]},
          "mark": {"type": "text", "fontSize": 44, "align": "left", "baseline": "alphabetic", "font": "DejaVu Sans", "color": "#000"},
          "encoding": {"x": {"field": "n", "type": "quantitative"}, "y": {"field": "value", "type": "quantitative"}, "text": {"field": "label"}}
        },
        {
          "data": {"values": [{"label": "b", "n": -11.33, "value": 0.6235}]},
          "mark": {"type": "text", "fontSize": 46, "align": "left", "baseline": "alphabetic", "font": "DejaVu Sans", "color": "#000"},
          "encoding": {"x": {"field": "n", "type": "quantitative"}, "y": {"field": "value", "type": "quantitative"}, "text": {"field": "label"}}
        }
      ]
    },
    {
      "width": 479.2,
      "height": 350,
      "title": {"text": "Normalised mean difference for range of sample size", "offset": -6},
      "layer": [
        {
          "data": {"name": "br"},
          "transform": [{"fold": ["circles", "rectangles", "squares", "triangles"], "as": ["series", "value"]}],
          "mark": {"type": "line", "strokeWidth": 1.5, "clip": true},
          "encoding": {
            "x": {"field": "n", "type": "quantitative", "scale": {"domain": [1, 100], "nice": false, "zero": false}, "axis": {"values": [20, 40, 60, 80, 100], "format": "d", "title": "Sample Size"}},
            "y": {"field": "value", "type": "quantitative", "scale": {"domain": [0, 0.5], "nice": false, "zero": false}, "axis": {"values": [0, 0.1, 0.2, 0.3, 0.4, 0.5], "format": ".1f", "title": "Normalised mean difference", "titleX": -45.5}},
            "color": {"field": "series", "type": "nominal", "scale": {"domain": ["circles", "rectangles", "squares", "triangles"], "range": ["#1f77b4", "#ff7f0e", "#2ca02c", "#d62728"]}, "legend": {"legendX": 228.2, "legendY": 9.3, "labelExpr": "'control vs ' + datum.label"}}
          }
        }
      ]
    }
  ]
}
